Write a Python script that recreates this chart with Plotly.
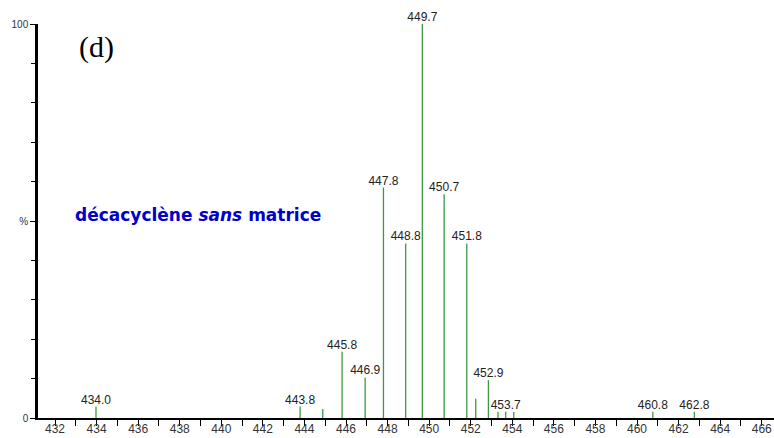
import plotly.graph_objects as go

# m/z position of each peak (as drawn) and relative intensity (%)
peak_mz = [433.97, 443.79, 444.88, 445.81, 446.92, 447.80, 448.87, 449.67,
           450.72, 451.81, 452.24, 452.85, 453.31, 453.68, 454.07, 460.76, 462.76]
peak_int = [2.9, 2.9, 2.3, 16.8, 10.3, 58.5, 44.3, 100.0,
            56.8, 44.3, 4.9, 9.6, 1.6, 1.6, 1.5, 1.6, 1.6]
peak_labels = ["434.0", "443.8", "", "445.8", "446.9", "447.8", "448.8", "449.7",
               "450.7", "451.8", "", "452.9", "", "453.7", "", "460.8", "462.8"]

x_ticks = list(range(432, 467, 2))
y_tickvals = [0, 50, 100]
y_ticktext = ["0", "%", "100"]

GREEN = "#3c9a46"

lx, ly = [], []
for m, h in zip(peak_mz, peak_int):
    lx += [m, m, None]
    ly += [0, h, None]

fig = go.Figure()
fig.add_trace(go.Scatter(x=lx, y=ly, mode="lines",
                         line=dict(color=GREEN, width=1.3),
                         hoverinfo="skip", showlegend=False))
fig.add_trace(go.Scatter(x=peak_mz, y=peak_int, mode="text", text=peak_labels,
                         textposition="top center",
                         textfont=dict(family="Liberation Sans, Arial", size=12, color="#222222"),
                         cliponaxis=False, showlegend=False))

fig.add_annotation(text="(d)", xref="paper", yref="paper", x=(96 - 38) / 736, y=(418 - 47) / 394,
                   showarrow=False, xanchor="center", yanchor="middle",
                   font=dict(family="Liberation Serif, Times New Roman", size=30, color="black"))
fig.add_annotation(text="<b>décacyclène <i>sans</i> matrice</b>", xref="paper", yref="paper",
                   x=(198 - 38) / 736, y=(418 - 215) / 394,
                   showarrow=False, xanchor="center", yanchor="middle",
                   font=dict(family="DejaVu Sans", size=17, color="#0000c8"))

fig.update_layout(
    width=774, height=438,
    margin=dict(l=38, r=0, t=24, b=20),
    paper_bgcolor="white", plot_bgcolor="white",
    xaxis=dict(range=[431.18, 466.59], tickvals=x_ticks, automargin=False,
               ticks="outside", ticklen=6, tickwidth=1, tickcolor="black",
               ticklabelstandoff=-7,
               minor=dict(tick0=431, dtick=2, ticks="outside", ticklen=6, tickcolor="black", tickwidth=1),
               showline=True, linecolor="black", linewidth=2,
               showgrid=False, zeroline=False,
               tickfont=dict(family="Liberation Sans, Arial", size=12, color="#333333")),
    yaxis=dict(range=[0, 100], tickvals=y_tickvals, ticktext=y_ticktext, automargin=False,
               ticks="outside", ticklen=5, tickwidth=1, tickcolor="black",
               minor=dict(dtick=10, ticks="outside", ticklen=4, tickcolor="black", tickwidth=1),
               showline=True, linecolor="black", linewidth=2.5,
               showgrid=False, zeroline=False,
               tickfont=dict(family="Liberation Sans, Arial", size=10, color="#333333")),
)

fig.write_html("out.html", config={"displayModeBar": False},
               post_script="document.body.style.margin='0';document.body.style.overflow='hidden';")
